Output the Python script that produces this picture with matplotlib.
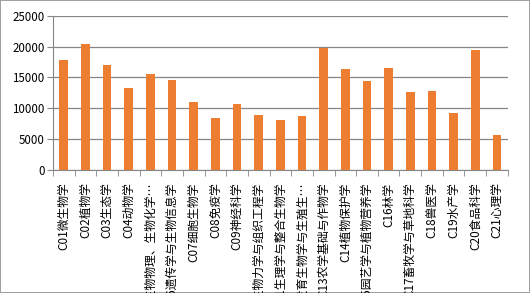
import matplotlib.pyplot as plt
import numpy as np

plt.rcParams['font.family'] = ['Noto Sans CJK SC', 'DejaVu Sans']

# Fachgebiete (Beschriftung der x-Achse)
faecher = ['C01微生物学', 'C02植物学', 'C03生态学', 'C04动物学',
           'C05生物物理、生物化学…', 'C06遗传学与生物信息学', 'C07细胞生物学',
           'C08免疫学', 'C09神经科学', 'C10生物力学与组织工程学',
           'C11生理学与整合生物学', 'C12发育生物学与生殖生…', 'C13农学基础与作物学',
           'C14植物保护学', 'C15园艺学与植物营养学', 'C16林学',
           'C17畜牧学与草地科学', 'C18兽医学', 'C19水产学', 'C20食品科学', 'C21心理学']
werte = [17800, 20450, 17000, 13300, 15550, 14600, 11000, 8400, 10700, 8900,
         8100, 8750, 19750, 16350, 14400, 16500, 12600, 12850, 9200, 19400, 5700]
y_ticks = [0, 5000, 10000, 15000, 20000, 25000]

fig = plt.figure(figsize=(5.3, 2.93), dpi=100)
fig.patch.set_edgecolor('#a0a0a0')
fig.patch.set_linewidth(1.2)
ax = fig.add_axes([0.1, 0.42, 0.858, 0.526])

x_pos = np.arange(len(faecher))
ax.bar(x_pos, werte, width=0.4, color='#ED7D31', zorder=3)

ax.set_xlim(-0.5, len(faecher) - 0.5)
ax.set_ylim(0, 25000)
ax.set_yticks(y_ticks)
ax.set_yticklabels([str(v) for v in y_ticks], fontsize=8.3)
ax.yaxis.grid(True, color='#868686', linewidth=0.9, zorder=0)

ax.set_xticks(x_pos)
ax.set_xticklabels(faecher, rotation=90, fontsize=8.5, va='top', ha='center')
ax.set_xticks(np.arange(-0.5, len(faecher)), minor=True)
# Striche nur an den Kategoriegrenzen
ax.tick_params(axis='x', which='major', length=0, pad=9)
ax.tick_params(axis='x', which='minor', length=4, color='#868686')
ax.tick_params(axis='y', length=4, color='#868686', pad=2)

for s in ['top', 'right']:
    ax.spines[s].set_visible(False)
ax.spines['left'].set_color('#868686')
ax.spines['bottom'].set_color('#868686')

fig.savefig('out.png', dpi=100)
